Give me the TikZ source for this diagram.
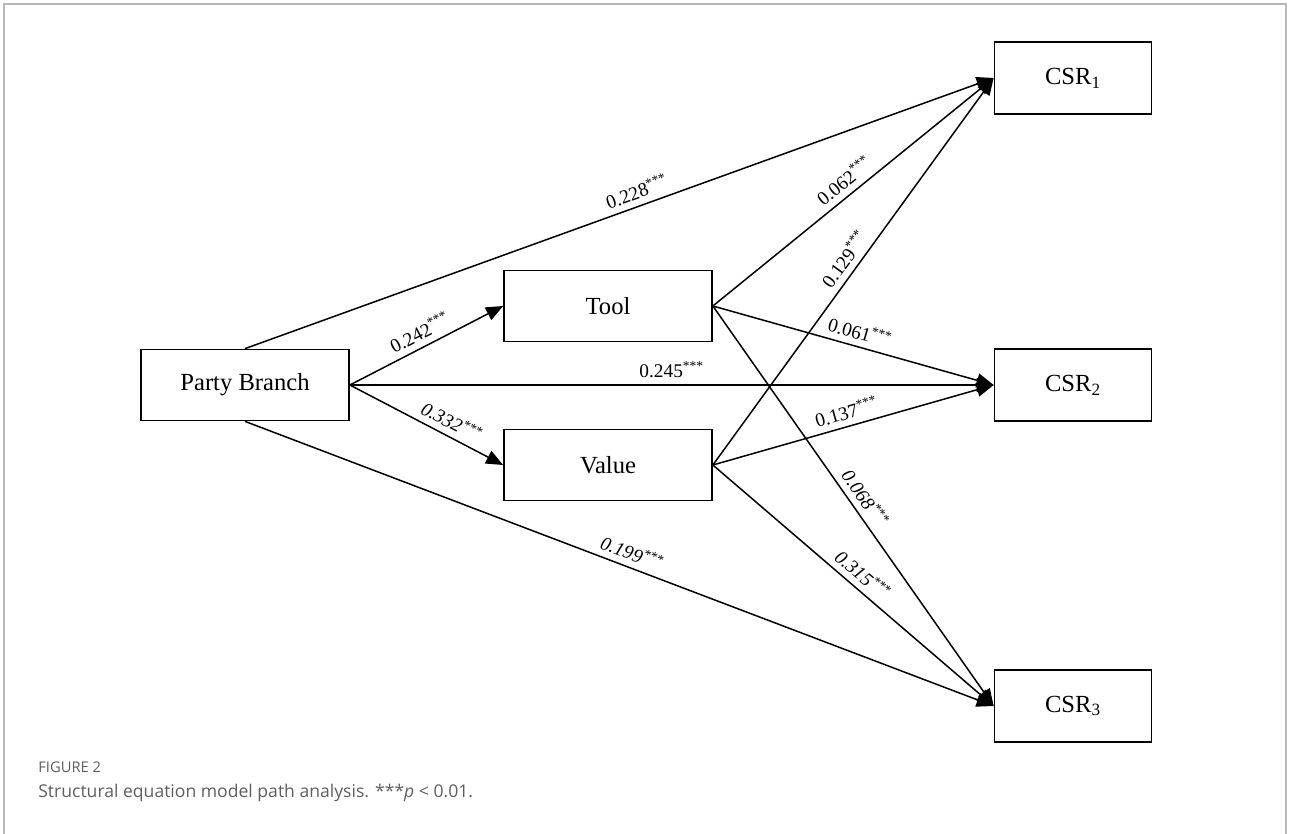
\documentclass[tikz,border=0pt]{standalone}
\usepackage{fontspec}
\setmainfont{Liberation Serif}
\newfontfamily\capfont{Open Sans}
\usetikzlibrary{positioning,arrows.meta}
\definecolor{capgray}{HTML}{5E5E5E}

\begin{document}
\begin{tikzpicture}[x=0.02cm,y=-0.02cm,
    >={Triangle[length=0.34cm,width=0.28cm]},
    box/.style={draw,line width=1pt,minimum width=4.16cm,minimum height=1.42cm,
                font=\fontsize{14}{16}\selectfont},
    csr/.style={box,minimum width=3.14cm,minimum height=1.44cm},
    coef/.style={sloped,above,inner sep=3.5pt,font=\fontsize{11}{13}\selectfont}]
       \useasboundingbox (0,0) rectangle (1290,834);
       \draw[gray!55,line width=0.8pt] (4,834) -- (4,4) -- (1286,4) -- (1286,834);

       \node[box] (party) at (245,385) {Party Branch};
       \node[box] (tool)  at (608,306) {Tool};
       \node[box] (value) at (608,465) {Value};
       \node[csr] (csr1)  at (1073,78)  {CSR\textsubscript{1}};
       \node[csr] (csr2)  at (1073,385) {CSR\textsubscript{2}};
       \node[csr] (csr3)  at (1073,706) {CSR\textsubscript{3}};

        \path[->,line width=0.85pt]
        (party.north) edge node[coef,pos=0.53] {0.228\textsuperscript{***}} (csr1.west)
        (party.east)  edge node[coef,pos=0.5]  {0.242\textsuperscript{***}} (tool.west)
        (party.east)  edge node[coef,pos=0.5]  {0.245\textsuperscript{***}} (csr2.west)
        (party.east)  edge node[coef,pos=0.62] {\itshape 0.332\textsuperscript{***}} (value.west)
        (party.south) edge node[coef,pos=0.51] {\itshape 0.199\textsuperscript{***}} (csr3.west)
        (tool.east)   edge node[coef,pos=0.5]  {0.062\textsuperscript{***}} (csr1.west)
        (tool.east)   edge node[coef,pos=0.51] {0.061\textsuperscript{***}} (csr2.west)
        (tool.east)   edge node[coef,pos=0.5]  {\itshape 0.068\textsuperscript{***}} (csr3.west)
        (value.east)  edge node[coef,pos=0.51] {0.129\textsuperscript{***}} (csr1.west)
        (value.east)  edge node[coef,pos=0.49] {0.137\textsuperscript{***}} (csr2.west)
        (value.east)  edge node[coef,pos=0.5]  {\itshape 0.315\textsuperscript{***}} (csr3.west);

       % caption
       \node[anchor=base west,inner sep=0pt,text=capgray,font=\capfont\fontsize{8.4}{10}\selectfont]
            (figno) at (38,772) {FIGURE 2};
       \node[anchor=base west,inner sep=0pt,text=capgray,font=\capfont\fontsize{10}{12}\selectfont]
            (caption) at (38,797) {Structural equation model path analysis. ***\textit{p} < 0.01.};
    \end{tikzpicture}
\end{document}
